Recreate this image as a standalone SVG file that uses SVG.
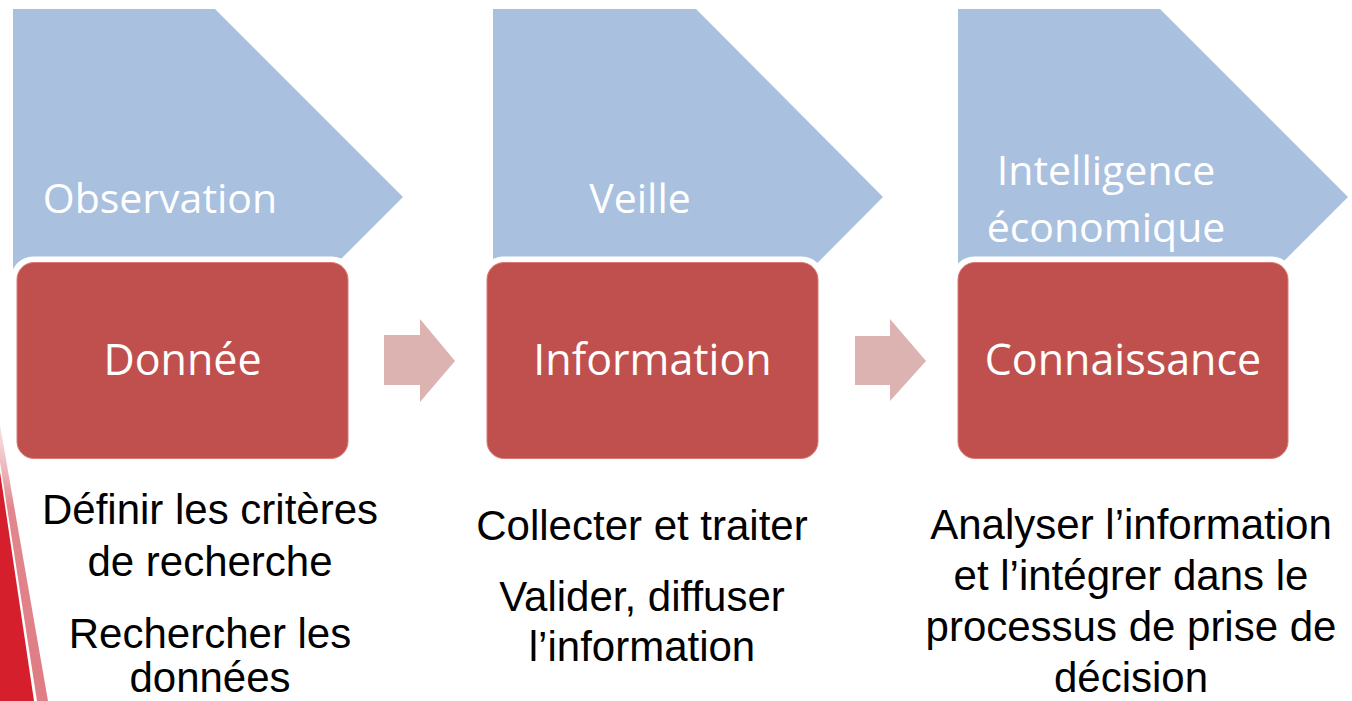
<svg xmlns="http://www.w3.org/2000/svg" width="1352" height="701" viewBox="0 0 1352 701">
<style>
.chev{fill:#A9C1DF}
.halo{fill:#FFFFFF}
.box{fill:#C0504D;stroke:#D97A78;stroke-width:1}
.arr{fill:#DDB3B2}
.hd{font-family:"Open Sans","Noto Sans",sans-serif;font-size:41px;fill:#FFFFFF;text-anchor:middle}
.bx{font-family:"Open Sans","Noto Sans",sans-serif;font-size:43px;fill:#FFFFFF;text-anchor:middle}
.tx{font-family:"Liberation Sans",Arial,sans-serif;font-size:42px;fill:#000000;text-anchor:middle}
</style>
<defs>
<linearGradient id="stripe" x1="0" y1="425" x2="0" y2="701" gradientUnits="userSpaceOnUse">
<stop offset="0" stop-color="#E8A0A5" stop-opacity="0.3"/>
<stop offset="0.3" stop-color="#E2868D"/>
<stop offset="1" stop-color="#DF7C84"/>
</linearGradient>
</defs>
<g id="decor">
<polygon points="0,425 48,701 37,701 0,462" fill="url(#stripe)"/>
<polygon points="0,472 34,701 0,701" fill="#D61F2C"/>
</g>
<g id="connectors">
<polygon class="arr" points="384,335 420,335 420,319 455,361 420,402 420,385 384,385"/>
<polygon class="arr" points="855,336 890,336 890,319 926,361 890,401 890,385 855,385"/>
</g>
<g id="stage1">
<polygon class="chev" points="13,9 215,9 403,197 215,385 13,385"/>
<text class="hd" x="160" y="213">Observation</text>
<rect class="halo" x="11" y="256.5" width="343" height="208" rx="22"/>
<rect class="box" x="17" y="262.5" width="331" height="196" rx="17"/>
<text class="bx" x="182.5" y="375">Donnée</text>
<text class="tx" x="210" y="524">Définir les critères</text>
<text class="tx" x="210" y="576">de recherche</text>
<text class="tx" x="210" y="648">Rechercher les</text>
<text class="tx" x="210" y="692">données</text>
</g>
<g id="stage2">
<polygon class="chev" points="493,9 696,9 883,197 696,385 493,385"/>
<text class="hd" x="640" y="213">Veille</text>
<rect class="halo" x="481" y="256.5" width="343" height="208" rx="22"/>
<rect class="box" x="487" y="262.5" width="331" height="196" rx="17"/>
<text class="bx" x="652.5" y="375">Information</text>
<text class="tx" x="642" y="540">Collecter et traiter</text>
<text class="tx" x="642" y="611">Valider, diffuser</text>
<text class="tx" x="642" y="661">l’information</text>
</g>
<g id="stage3">
<polygon class="chev" points="958,9 1160,9 1348,197 1160,385 958,385"/>
<text class="hd" x="1106" y="185">Intelligence</text>
<text class="hd" x="1106" y="242">économique</text>
<rect class="halo" x="952" y="256.5" width="342" height="208" rx="22"/>
<rect class="box" x="958" y="262.5" width="330" height="196" rx="17"/>
<text class="bx" x="1123" y="375">Connaissance</text>
<text class="tx" x="1131" y="539">Analyser l’information</text>
<text class="tx" x="1131" y="590">et l’intégrer dans le</text>
<text class="tx" x="1131" y="641">processus de prise de</text>
<text class="tx" x="1131" y="692">décision</text>
</g>
</svg>
